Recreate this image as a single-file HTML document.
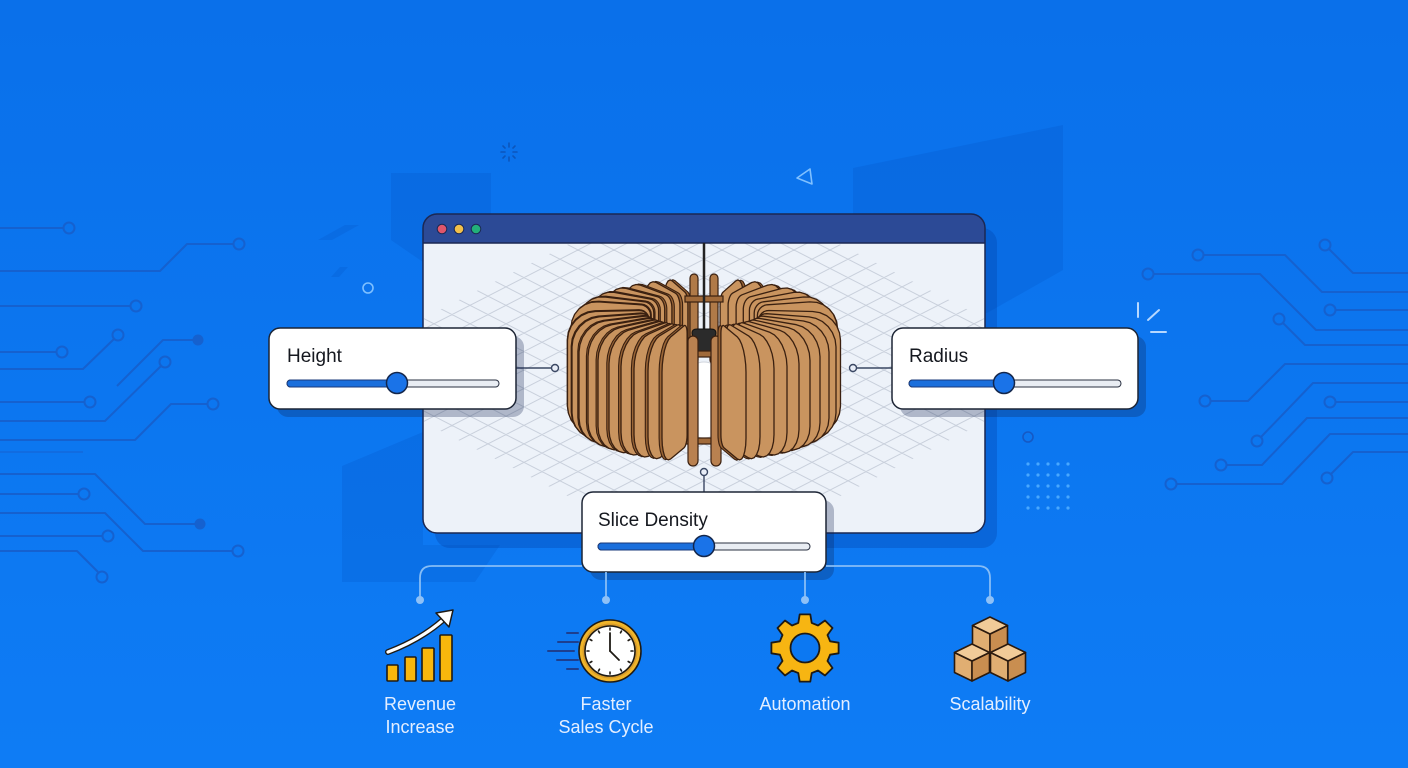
<!DOCTYPE html>
<html><head><meta charset="utf-8"><style>
html,body{margin:0;padding:0;width:1408px;height:768px;overflow:hidden;background:#0b74ef}
svg{display:block}
text{font-family:"Liberation Sans",Arial,sans-serif}
</style></head><body>
<svg id="s" width="1408" height="768" viewBox="0 0 1408 768" xmlns="http://www.w3.org/2000/svg">
<defs>
<linearGradient id="bg" x1="0" y1="0" x2="0" y2="1"><stop offset="0" stop-color="#0a70ea"/><stop offset="1" stop-color="#0e7cf5"/></linearGradient>
<clipPath id="gridclip"><polygon points="704,175 1086,370 704,566 322,370"/></clipPath>
<clipPath id="bodyclip"><rect x="424" y="243" width="560" height="289" rx="13"/></clipPath>
</defs>
<rect width="1408" height="768" fill="url(#bg)"/>

<!-- decorative dark shapes -->
<g fill="#0049b8" fill-opacity="0.18">
<polygon points="391,173 491,173 491,220 423,262 391,240"/>
<polygon points="853,168 1063,125 1063,270 987,313 853,313"/>
<polygon points="342,466 423,432 423,545 500,545 475,582 342,582"/>
<polygon points="318,240 345,225 359,225 332,240"/>
<polygon points="331,277 340,267 348,267 339,277"/>
</g>

<!-- sparkles / small decorations -->
<g stroke="#0d4fb0" stroke-width="1.6" stroke-linecap="round" opacity="0.8">
<line x1="509" y1="143" x2="509" y2="147"/><line x1="509" y1="157" x2="509" y2="161"/>
<line x1="501" y1="152" x2="505" y2="152"/><line x1="513" y1="152" x2="517" y2="152"/>
<line x1="503" y1="146" x2="505" y2="148"/><line x1="513" y1="156" x2="515" y2="158"/>
<line x1="503" y1="158" x2="505" y2="156"/><line x1="513" y1="148" x2="515" y2="146"/>
</g>
<polygon points="810,169 812,184 797,178" fill="none" stroke="#7fc0ff" stroke-width="1.6" stroke-linejoin="round"/>
<circle cx="368" cy="288" r="5" fill="none" stroke="#7fc0ff" stroke-width="1.6"/>
<g stroke="#b7d8ff" stroke-width="2" stroke-linecap="round">
<line x1="1138" y1="303" x2="1138" y2="317"/><line x1="1148" y1="320" x2="1159" y2="310"/><line x1="1151" y1="332" x2="1166" y2="332"/>
</g>
<circle cx="1028" cy="437" r="5" fill="none" stroke="#1559c4" stroke-width="1.6"/>
<g id="dots" fill="#49a8ff"></g>

<!-- circuits -->
<g fill="none" stroke="#1561cf" stroke-width="2" stroke-linejoin="round">
<path d="M0,228 H63 M0,271 H160 L187,244 H233 M0,306 H130 M0,352 H56 M0,369 H83 L114,339 M117,386 L163,340 H194 M0,402 H84 M0,421 H105 L161,366 M0,440 H135 L171,404 H207 M0,474 H95 L145,524 H196 M0,494 H78 M0,513 H105 L143,551 H232 M0,536 H102 M0,551 H77 L98,572"/>
<path d="M0,452 H83" stroke-opacity="0.5"/>
<circle cx="69" cy="228" r="5.5"/><circle cx="239" cy="244" r="5.5"/><circle cx="136" cy="306" r="5.5"/><circle cx="62" cy="352" r="5.5"/><circle cx="118" cy="335" r="5.5"/><circle cx="90" cy="402" r="5.5"/><circle cx="165" cy="362" r="5.5"/><circle cx="213" cy="404" r="5.5"/><circle cx="84" cy="494" r="5.5"/><circle cx="238" cy="551" r="5.5"/><circle cx="108" cy="536" r="5.5"/><circle cx="102" cy="577" r="5.5"/>
<path d="M1329,249 L1353,273 H1408 M1204,255 H1285 L1322,292 H1408 M1154,274 H1260 L1316,330 H1408 M1336,310 H1408 M1283,323 L1305,345 H1408 M1408,364 H1285 L1248,401 H1211 M1336,402 H1408 M1408,383 H1313 L1261,437 M1408,418 H1307 L1262,465 H1227 M1408,434 H1330 L1282,484 H1177 M1408,452 H1353 L1331,474"/>
<circle cx="1325" cy="245" r="5.5"/><circle cx="1198" cy="255" r="5.5"/><circle cx="1148" cy="274" r="5.5"/><circle cx="1330" cy="310" r="5.5"/><circle cx="1279" cy="319" r="5.5"/><circle cx="1205" cy="401" r="5.5"/><circle cx="1330" cy="402" r="5.5"/><circle cx="1257" cy="441" r="5.5"/><circle cx="1221" cy="465" r="5.5"/><circle cx="1171" cy="484" r="5.5"/><circle cx="1327" cy="478" r="5.5"/>
</g>
<circle cx="198" cy="340" r="5.5" fill="#1561cf"/>
<circle cx="200" cy="524" r="5.5" fill="#1561cf"/>

<!-- window -->
<rect x="435" y="228" width="562" height="320" rx="15" fill="#003a9e" fill-opacity="0.28"/>
<rect x="423" y="214" width="562" height="319" rx="14" fill="#edf2f9"/>
<g clip-path="url(#bodyclip)"><g id="grid" clip-path="url(#gridclip)"></g></g>
<path d="M423,243 V228 Q423,214 437,214 H971 Q985,214 985,228 V243 Z" fill="#2c4a96"/>
<line x1="423" y1="243" x2="985" y2="243" stroke="#1b2853" stroke-width="1.5"/>
<rect x="423" y="214" width="562" height="319" rx="14" fill="none" stroke="#1b2853" stroke-width="1.5"/>
<circle cx="442" cy="229" r="4.8" fill="#e0566b" stroke="#1b2853" stroke-width="1"/>
<circle cx="459" cy="229" r="4.8" fill="#f2c04a" stroke="#1b2853" stroke-width="1"/>
<circle cx="476" cy="229" r="4.8" fill="#22b07a" stroke="#1b2853" stroke-width="1"/>

<!-- lamp -->
<g id="lamp"></g>

<!-- connectors near panels -->
<g stroke="#3a4763" stroke-width="1.4" fill="#e8edf7">
<line x1="516" y1="368" x2="551" y2="368"/><circle cx="555" cy="368" r="3.5"/>
<line x1="857" y1="368" x2="892" y2="368"/><circle cx="853" cy="368" r="3.5"/>
<line x1="704" y1="476" x2="704" y2="492"/><circle cx="704" cy="472" r="3.5"/>
</g>

<!-- panels -->
<g>
<rect x="277" y="336" width="247" height="81" rx="11" fill="#102050" fill-opacity="0.28"/>
<rect x="269" y="328" width="247" height="81" rx="11" fill="#fff" stroke="#1d2535" stroke-width="1.5"/>
<text x="287" y="362" font-size="19" fill="#15181f">Height</text>
<rect x="287" y="380" width="212" height="7" rx="3.5" fill="#e9edf3" stroke="#2a3142" stroke-width="1"/>
<rect x="287" y="380" width="110" height="7" rx="3.5" fill="#1a6fdc" stroke="#1a3a7a" stroke-width="1"/>
<circle cx="397" cy="383" r="10.5" fill="#1a73e8" stroke="#14264a" stroke-width="1.5"/>

<rect x="900" y="336" width="246" height="81" rx="11" fill="#102050" fill-opacity="0.28"/>
<rect x="892" y="328" width="246" height="81" rx="11" fill="#fff" stroke="#1d2535" stroke-width="1.5"/>
<text x="909" y="362" font-size="19" fill="#15181f">Radius</text>
<rect x="909" y="380" width="212" height="7" rx="3.5" fill="#e9edf3" stroke="#2a3142" stroke-width="1"/>
<rect x="909" y="380" width="95" height="7" rx="3.5" fill="#1a6fdc" stroke="#1a3a7a" stroke-width="1"/>
<circle cx="1004" cy="383" r="10.5" fill="#1a73e8" stroke="#14264a" stroke-width="1.5"/>

<rect x="590" y="500" width="244" height="80" rx="11" fill="#102050" fill-opacity="0.28"/>
<rect x="582" y="492" width="244" height="80" rx="11" fill="#fff" stroke="#1d2535" stroke-width="1.5"/>
<text x="598" y="526" font-size="19" fill="#15181f">Slice Density</text>
<rect x="598" y="543" width="212" height="7" rx="3.5" fill="#e9edf3" stroke="#2a3142" stroke-width="1"/>
<rect x="598" y="543" width="106" height="7" rx="3.5" fill="#1a6fdc" stroke="#1a3a7a" stroke-width="1"/>
<circle cx="704" cy="546" r="10.5" fill="#1a73e8" stroke="#14264a" stroke-width="1.5"/>
</g>

<!-- bottom connectors -->
<g stroke="#86bdf6" stroke-width="1.8" fill="none">
<path d="M582,566 H432 Q420,566 420,578 V600"/>
<path d="M826,566 H978 Q990,566 990,578 V600"/>
<path d="M606,572 V600 M805,572 V600"/>
</g>
<g fill="#8ec1f7"><circle cx="420" cy="600" r="4"/><circle cx="606" cy="600" r="4"/><circle cx="805" cy="600" r="4"/><circle cx="990" cy="600" r="4"/></g>

<!-- revenue icon -->
<g stroke="#1e1a14" stroke-width="1.6" fill="#f8b70c" stroke-linejoin="round">
<rect x="387" y="665" width="11" height="16" rx="1"/>
<rect x="405" y="657" width="11" height="24" rx="1"/>
<rect x="422" y="648" width="12" height="33" rx="1"/>
<rect x="440" y="635" width="12" height="46" rx="1"/>
</g>
<path d="M388,652 Q420,640 443,620" fill="none" stroke="#1e1a14" stroke-width="6" stroke-linecap="round"/>
<path d="M388,652 Q420,640 443,620" fill="none" stroke="#fff" stroke-width="3.2" stroke-linecap="round"/>
<polygon points="453,610 436,613 449,627" fill="#fff" stroke="#1e1a14" stroke-width="1.5" stroke-linejoin="round"/>

<!-- clock icon -->
<g stroke="#1d3f8f" stroke-width="2" stroke-linecap="round">
<line x1="567" y1="633" x2="578" y2="633"/><line x1="558" y1="642" x2="578" y2="642"/><line x1="548" y1="651" x2="574" y2="651"/><line x1="557" y1="660" x2="578" y2="660"/><line x1="567" y1="669" x2="578" y2="669"/>
</g>
<circle cx="610" cy="651" r="31" fill="#f0b52a" stroke="#1e1a14" stroke-width="1.6"/>
<circle cx="610" cy="651" r="27.5" fill="#d99c2b"/>
<circle cx="610" cy="651" r="25" fill="#fff" stroke="#1e1a14" stroke-width="1.6"/>
<g id="ticks" stroke="#1e1a14" stroke-width="1.6" stroke-linecap="round"></g>
<line x1="610" y1="651" x2="610" y2="633" stroke="#1e1a14" stroke-width="1.8" stroke-linecap="round"/>
<line x1="610" y1="651" x2="619" y2="660" stroke="#1e1a14" stroke-width="1.8" stroke-linecap="round"/>

<!-- gear -->
<polygon id="gear" fill="#f7b512" stroke="#1e1a14" stroke-width="1.8" stroke-linejoin="round" points=""/>
<circle cx="805" cy="648" r="14.5" fill="#0c78f2" stroke="#1e1a14" stroke-width="1.8"/>

<!-- cubes -->
<g id="cubes" stroke="#2b1a0e" stroke-width="1.6" stroke-linejoin="round"></g>

<!-- labels -->
<g font-size="18" fill="#e3eeff" text-anchor="middle">
<text x="420" y="710">Revenue</text><text x="420" y="733">Increase</text>
<text x="606" y="710">Faster</text><text x="606" y="733">Sales Cycle</text>
<text x="805" y="710">Automation</text>
<text x="990" y="710">Scalability</text>
</g>
</svg>
<script>
const NS="http://www.w3.org/2000/svg";
function el(tag,attrs,parent){const e=document.createElementNS(NS,tag);for(const k in attrs)e.setAttribute(k,attrs[k]);parent.appendChild(e);return e;}
// dots grid
(function(){const g=document.getElementById('dots');for(let i=0;i<5;i++)for(let j=0;j<5;j++)el('circle',{cx:1028+i*10,cy:464+j*11,r:1.6},g);})();
// iso grid
(function(){const g=document.getElementById('grid');let d='';const m=0.513;
for(let i=-30;i<=30;i++){const x0=704+i*36;d+=`M${x0-600},${370-m*600}L${x0+600},${370+m*600}`;d+=`M${x0-600},${370+m*600}L${x0+600},${370-m*600}`;}
el('path',{d:d,stroke:'#c9d0dc','stroke-width':1,fill:'none'},g);})();
// clock ticks
(function(){const g=document.getElementById('ticks');for(let i=0;i<12;i++){const a=i*Math.PI/6;el('line',{x1:610+21*Math.cos(a),y1:651+21*Math.sin(a),x2:610+23*Math.cos(a),y2:651+23*Math.sin(a)},g);}})();
// gear
(function(){let pts=[];const s=Math.PI/180;for(let i=0;i<8;i++){const a=(-90+i*45)*s;[[26,-15],[34,-9],[34,9],[26,15]].forEach(([R,da])=>pts.push((805+R*Math.cos(a+da*s)).toFixed(1)+','+(648+R*Math.sin(a+da*s)).toFixed(1)));}
document.getElementById('gear').setAttribute('points',pts.join(' '));})();
// cubes
(function(){const g=document.getElementById('cubes');const w=17.5,hh=8.5,H=20;
function cube(x,y){const P=a=>a.map(p=>p.join(',')).join(' ');
el('polygon',{points:P([[x-w,y+hh],[x,y+2*hh],[x,y+2*hh+H],[x-w,y+hh+H]]),fill:'#e0ae72'},g);
el('polygon',{points:P([[x,y+2*hh],[x+w,y+hh],[x+w,y+hh+H],[x,y+2*hh+H]]),fill:'#c98e50'},g);
el('polygon',{points:P([[x,y],[x+w,y+hh],[x,y+2*hh],[x-w,y+hh]]),fill:'#f1cb98'},g);}
cube(990,617);cube(972,644);cube(1008,644);})();
// lamp
(function(){const L=document.getElementById('lamp');
const cx=704,cy=370,rin=55,rout=137,h=122,k=0.27,Ro=28,Ri=10,T=3;
const prof=[];function arc(cr,cz,R,a0,a1){for(let j=0;j<=6;j++){const a=(a0+(a1-a0)*j/6)*Math.PI/180;prof.push([cr+R*Math.cos(a),cz+R*Math.sin(a)]);}}
arc(rout-Ro,-h/2+Ro,Ro,-90,0);arc(rout-Ro,h/2-Ro,Ro,0,90);arc(rin+Ri,h/2-Ri,Ri,90,180);arc(rin+Ri,-h/2+Ri,Ri,180,270);
function slatPath(th,off){const s=Math.sin(th),c=Math.cos(th);let d='';prof.forEach((p,i)=>{const X=cx+p[0]*s+off*c,Y=cy+p[1]+k*p[0]*c-off*k*s;d+=(i?'L':'M')+X.toFixed(1)+','+Y.toFixed(1);});return d+'Z';}
const offsF=[42,56,70,83,95,106,116,125,132,136.5];
const offsB=[40,60,80,98,113,125,133];
let angs=[];
offsF.forEach(o=>{const a=Math.asin(Math.min(1,o/rout));angs.push(a,-a);});
offsB.forEach(o=>{const a=Math.asin(Math.min(1,o/rout));angs.push(Math.PI-a,-(Math.PI-a));});
angs.sort((a,b)=>Math.cos(a)-Math.cos(b));
function drawSlat(th){el('path',{d:slatPath(th,-T),fill:'#9a6536',stroke:'#3a2010','stroke-width':1.1,'stroke-linejoin':'round'},L);
el('path',{d:slatPath(th,0),fill:'#c9945f',stroke:'#3a2010','stroke-width':1.3,'stroke-linejoin':'round'},L);}
const back=angs.filter(a=>Math.cos(a)<0),front=angs.filter(a=>Math.cos(a)>=0);
back.forEach(drawSlat);
const st={stroke:'#3a2010','stroke-width':1.2};
// back ribs
el('rect',Object.assign({x:690,y:274,width:8,height:90,rx:4,fill:'#b07a48'},st),L);
el('rect',Object.assign({x:710,y:274,width:8,height:90,rx:4,fill:'#b07a48'},st),L);
el('rect',Object.assign({x:685,y:296,width:38,height:6,fill:'#a06a3a'},st),L);
// bulb
el('ellipse',{cx:704,cy:400,rx:25,ry:38,fill:'#ffffff',stroke:'#d0d4dc','stroke-width':1},L);
// cord & socket
el('line',{x1:704,y1:243,x2:704,y2:332,stroke:'#222','stroke-width':2.5},L);
el('path',{d:'M692,333 Q692,329 697,329 H711 Q716,329 716,333 L712,354 H696 Z',fill:'#2b2b2b',stroke:'#111','stroke-width':1},L);
// crossbars
el('rect',Object.assign({x:678,y:351,width:52,height:6,fill:'#a06a3a'},st),L);
el('rect',Object.assign({x:656,y:436,width:8,height:10,fill:'#a06a3a'},st),L);
el('rect',Object.assign({x:745,y:436,width:8,height:10,fill:'#a06a3a'},st),L);
el('rect',Object.assign({x:676,y:438,width:57,height:6,fill:'#a06a3a'},st),L);
// front ribs
el('rect',Object.assign({x:688,y:336,width:10,height:130,rx:5,fill:'#b98150'},st),L);
el('rect',Object.assign({x:711,y:336,width:10,height:130,rx:5,fill:'#b98150'},st),L);
front.forEach(drawSlat);
})();
</script>
</body></html>
